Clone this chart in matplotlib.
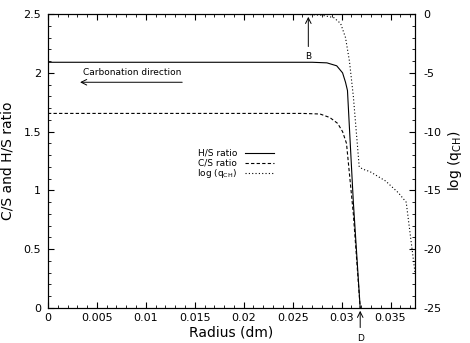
import numpy as np
import matplotlib
matplotlib.use("Agg")
import matplotlib.pyplot as plt
from matplotlib.ticker import MultipleLocator

plt.rcParams["axes.unicode_minus"] = False

# H/S ratio profile
hs_r = [0.0, 0.027, 0.0285, 0.0295, 0.0301, 0.0304, 0.0306, 0.0312, 0.0319]
hs_v = [2.09, 2.09, 2.085, 2.06, 2.0, 1.92, 1.85, 0.9, 0.0]

# C/S ratio profile
cs_r = [0.0, 0.026, 0.0278, 0.0288, 0.0296, 0.0301, 0.0305, 0.0312, 0.0319]
cs_v = [1.655, 1.655, 1.65, 1.62, 1.57, 1.5, 1.4, 0.8, 0.0]

# log(q_CH) profile (right axis)
q_r = [0.0268, 0.028, 0.0292, 0.0299, 0.0304, 0.0308, 0.0312, 0.0315, 0.0318,
       0.0322, 0.0329, 0.0345, 0.0358, 0.0366, 0.0369, 0.0372, 0.0375]
q_v = [-0.05, -0.1, -0.3, -0.8, -2.0, -4.0, -7.0, -10.0, -13.0,
       -13.2, -13.4, -14.2, -15.2, -16.0, -18.0, -20.0, -22.0]

labels = ["H/S ratio", "C/S ratio", "log (q$_{\\rm CH}$)"]

fig = plt.figure(figsize=(4.7, 3.43), dpi=100)
ax = fig.add_axes([0.102, 0.102, 0.781, 0.857])
ax2 = ax.twinx()

ax.plot(hs_r, hs_v, color="black", lw=0.8)
ax.plot(cs_r, cs_v, color="black", lw=0.8, ls=(0, (3, 2)))
ax2.plot(q_r, q_v, color="black", lw=0.8, ls=(0, (1, 2)))

ax.set_xlim(0, 0.0375)
ax.set_ylim(0, 2.5)
ax2.set_ylim(-25, 0)

ax.xaxis.set_minor_locator(MultipleLocator(0.001))
ax.yaxis.set_minor_locator(MultipleLocator(0.1))
ax2.yaxis.set_major_locator(MultipleLocator(5))
ax2.yaxis.set_minor_locator(MultipleLocator(1))
ax.set_xticks([0, 0.005, 0.01, 0.015, 0.02, 0.025, 0.03, 0.035])
ax.set_xticklabels(["0", "0.005", "0.01", "0.015", "0.02", "0.025", "0.03", "0.035"])
ax.set_yticks([0, 0.5, 1, 1.5, 2, 2.5])
ax.set_yticklabels(["0", "0.5", "1", "1.5", "2", "2.5"])

ax.tick_params(which="both", direction="in", top=True, labelsize=8)
ax.tick_params(which="major", length=4)
ax.tick_params(which="minor", length=2)
ax2.tick_params(which="both", direction="in", labelsize=8)
ax2.tick_params(which="major", length=4)
ax2.tick_params(which="minor", length=2)
ax.tick_params(axis="y", pad=5)
ax2.tick_params(axis="y", pad=6)

ax.set_xlabel("Radius (dm)", fontsize=10, labelpad=2)
ax.set_ylabel("C/S and H/S ratio", fontsize=10, labelpad=6)
ax2.set_ylabel("log (q$_{\\rm CH}$)", fontsize=10, labelpad=3)

# annotations
ax.annotate("", xy=(0.0030, 1.92), xytext=(0.0140, 1.92),
            arrowprops=dict(arrowstyle="->", lw=0.7, color="black"))
ax.text(0.0086, 2.0, "Carbonation direction", fontsize=6.5, ha="center", va="center")

ax.annotate("", xy=(0.0266, 2.5), xytext=(0.0266, 2.2),
            arrowprops=dict(arrowstyle="->", lw=0.7, color="black"), annotation_clip=False)
ax.text(0.0266, 2.14, "B", fontsize=6.5, ha="center", va="center")

ax.annotate("", xy=(0.0319, 0.0), xytext=(0.0319, -0.19),
            arrowprops=dict(arrowstyle="->", lw=0.7, color="black"), annotation_clip=False)
ax.text(0.0319, -0.22, "D", fontsize=6.5, ha="center", va="top")

# hand-made legend, text on the left, sample on the right
styles = ["-", (0, (3, 2)), (0, (1, 2))]
for i, (lab, st) in enumerate(zip(labels, styles)):
    y = 1.318 - i * 0.085
    ax.text(0.01935, y, lab, fontsize=6.5, ha="right", va="center")
    ax.plot([0.0201, 0.0231], [y, y], color="black", lw=0.8, ls=st)

fig.savefig("out.png", dpi=100)
